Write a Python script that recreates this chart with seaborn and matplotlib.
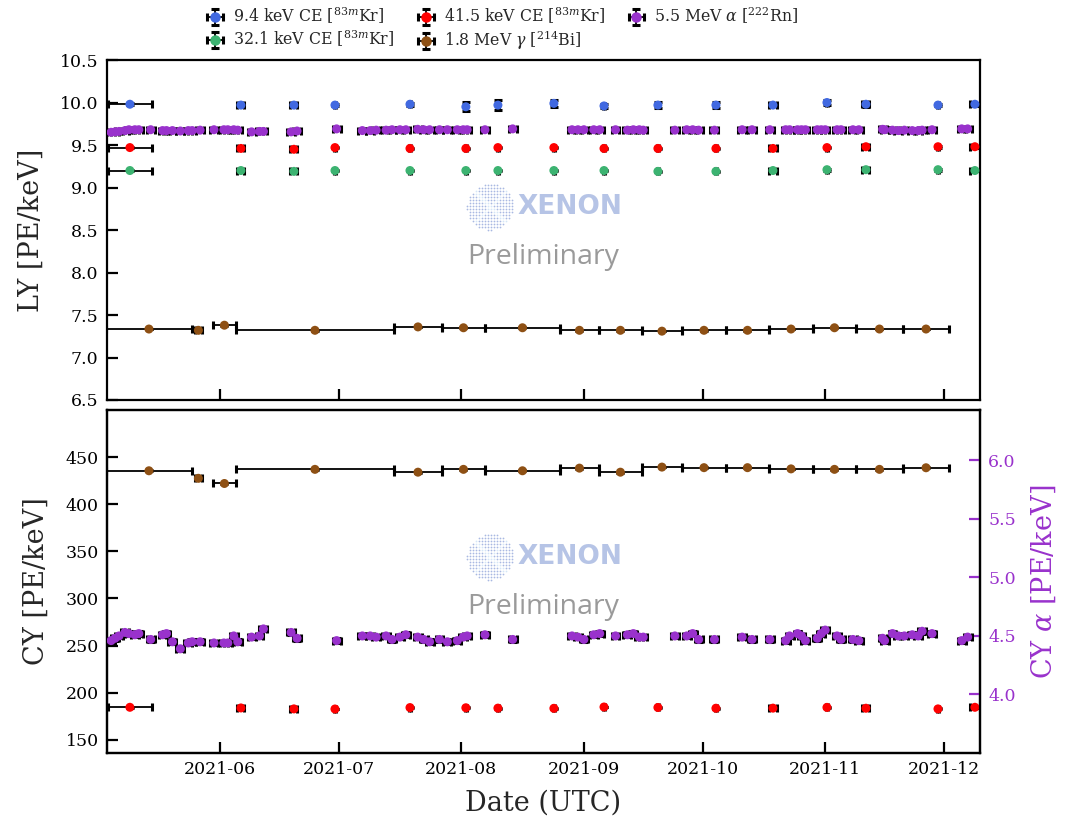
import numpy as np
import pandas as pd
import matplotlib
matplotlib.use("Agg")
import matplotlib.pyplot as plt
import matplotlib.dates as mdates
import matplotlib.transforms as mtransforms
import seaborn as sns

# ---------------- data ----------------
# 83mKr calibration runs
kr_dates = ["2021-05-09 06:00", "2021-06-06 07:30", "2021-06-19 17:00", "2021-06-30 02:00",
            "2021-07-19 01:00", "2021-08-02 04:00", "2021-08-10 06:30", "2021-08-24 10:00",
            "2021-09-06 02:00", "2021-09-19 17:00", "2021-10-04 09:00", "2021-10-18 19:00",
            "2021-11-01 10:30", "2021-11-11 07:00", "2021-11-29 12:00", "2021-12-08 20:00"]
kr_xerr_days = [5.6, 0.9, 0.9, 0.2, 0.2, 0.2, 0.2, 0.2, 0.2, 0.2, 0.2, 0.9, 0.2, 0.9, 0.2, 1.2]

ly_9keV = [9.98, 9.97, 9.97, 9.97, 9.98, 9.95, 9.97, 9.99, 9.96, 9.97, 9.97, 9.97, 10.00, 9.98, 9.97, 9.98]
ly_9keV_err = [0.01, 0.02, 0.02, 0.01, 0.015, 0.055, 0.055, 0.045, 0.02, 0.035, 0.035, 0.015, 0.03, 0.03, 0.01, 0.015]
ly_41keV = [9.47, 9.46, 9.45, 9.47, 9.46, 9.46, 9.47, 9.47, 9.46, 9.46, 9.46, 9.46, 9.47, 9.48, 9.48, 9.48]
ly_32keV = [9.20, 9.20, 9.19, 9.20, 9.20, 9.20, 9.20, 9.20, 9.20, 9.19, 9.19, 9.20, 9.21, 9.21, 9.21, 9.20]
cy_41keV = [184.5, 183.8, 182.8, 182.7, 184.2, 184.0, 183.6, 183.4, 184.8, 184.3, 183.5, 183.6,
            184.4, 183.5, 182.8, 184.5]

# 214Bi 1.8 MeV gamma, time bins
bi_bin_start = ["2021-05-03 05:00", "2021-05-25 16:00", "2021-05-30 05:30", "2021-06-05 01:00",
                "2021-07-15 00:00", "2021-07-27 03:00", "2021-08-07 00:00", "2021-08-25 23:00",
                "2021-09-04 19:00", "2021-09-15 16:00", "2021-09-25 19:00", "2021-10-06 22:00",
                "2021-10-17 19:00", "2021-10-28 22:00", "2021-11-08 18:00", "2021-11-20 16:00"]
bi_bin_end = ["2021-05-24 22:00", "2021-05-27 11:00", "2021-06-05 01:00", "2021-07-15 00:00",
              "2021-07-27 03:00", "2021-08-07 00:00", "2021-08-25 23:00", "2021-09-04 19:00",
              "2021-09-15 16:00", "2021-09-25 19:00", "2021-10-06 22:00", "2021-10-17 19:00",
              "2021-10-28 22:00", "2021-11-08 18:00", "2021-11-20 16:00", "2021-12-02 07:00"]
ly_bi = [7.335, 7.32, 7.38, 7.32, 7.36, 7.35, 7.35, 7.32, 7.32, 7.31, 7.32, 7.32, 7.335, 7.35, 7.335, 7.335]
ly_bi_err = [0.004, 0.012, 0.006, 0.004, 0.004, 0.004, 0.004, 0.004, 0.004, 0.004, 0.004, 0.004,
             0.004, 0.004, 0.004, 0.004]
cy_bi = [435.5, 427.5, 422.0, 437.0, 434.0, 437.0, 435.5, 438.3, 434.0, 439.4, 438.8, 438.8,
         437.5, 437.0, 437.0, 438.7]
cy_bi_err = [0.4, 2.0, 0.6, 0.4, 0.4, 0.4, 0.4, 0.4, 0.4, 0.4, 0.4, 0.4, 0.4, 0.4, 0.4, 0.4]

# 222Rn 5.5 MeV alpha
rn_dates = ["2021-05-04 12:00", "2021-05-05 12:00", "2021-05-06 12:00", "2021-05-08", "2021-05-09",
            "2021-05-10 12:00", "2021-05-11 12:00", "2021-05-14 12:00", "2021-05-17 12:00",
            "2021-05-18 12:00", "2021-05-20", "2021-05-22", "2021-05-24", "2021-05-25", "2021-05-27",
            "2021-05-30 12:00", "2021-06-02", "2021-06-03", "2021-06-04 12:00", "2021-06-05 12:00",
            "2021-06-09", "2021-06-11", "2021-06-12", "2021-06-19", "2021-06-20 12:00",
            "2021-06-30 12:00", "2021-07-07", "2021-07-09", "2021-07-10 12:00", "2021-07-13",
            "2021-07-14 12:00", "2021-07-16 12:00", "2021-07-18", "2021-07-21", "2021-07-22 12:00",
            "2021-07-24", "2021-07-26 12:00", "2021-07-28 12:00", "2021-07-31", "2021-08-01 12:00",
            "2021-08-02 12:00", "2021-08-07", "2021-08-14", "2021-08-29", "2021-08-30 12:00",
            "2021-09-01", "2021-09-03 12:00", "2021-09-05", "2021-09-09", "2021-09-12",
            "2021-09-13 12:00", "2021-09-15", "2021-09-16", "2021-09-24", "2021-09-27",
            "2021-09-28 12:00", "2021-09-30", "2021-10-04", "2021-10-11", "2021-10-13 12:00",
            "2021-10-18", "2021-10-22", "2021-10-23", "2021-10-25", "2021-10-26", "2021-10-27",
            "2021-10-30", "2021-10-31", "2021-11-01", "2021-11-04", "2021-11-05", "2021-11-08",
            "2021-11-09 12:00", "2021-11-15 12:00", "2021-11-16", "2021-11-18", "2021-11-19 12:00",
            "2021-11-21", "2021-11-23", "2021-11-24 12:00", "2021-11-25 12:00", "2021-11-28",
            "2021-12-05 12:00", "2021-12-07"]
ly_rn = [9.65, 9.655, 9.66, 9.67, 9.68, 9.68, 9.68, 9.68, 9.67, 9.67, 9.67, 9.665,
         9.67, 9.67, 9.675, 9.68, 9.68, 9.68, 9.68, 9.675, 9.655, 9.66, 9.66, 9.655,
         9.665, 9.69, 9.67, 9.67, 9.675, 9.675, 9.68, 9.68, 9.68, 9.685, 9.68, 9.68,
         9.68, 9.68, 9.68, 9.68, 9.68, 9.68, 9.69, 9.68, 9.68, 9.68, 9.68, 9.68,
         9.68, 9.675, 9.68, 9.68, 9.675, 9.675, 9.68, 9.68, 9.675, 9.675, 9.68, 9.68,
         9.68, 9.68, 9.68, 9.68, 9.68, 9.68, 9.68, 9.68, 9.68, 9.68, 9.68, 9.68,
         9.68, 9.685, 9.68, 9.675, 9.67, 9.675, 9.67, 9.67, 9.675, 9.68, 9.69, 9.69]
cy_rn = [4.46, 4.48, 4.50, 4.53, 4.52, 4.51, 4.52, 4.47, 4.51, 4.52, 4.45, 4.39,
         4.44, 4.45, 4.45, 4.44, 4.44, 4.44, 4.50, 4.45, 4.49, 4.50, 4.56, 4.53,
         4.48, 4.46, 4.50, 4.50, 4.49, 4.50, 4.47, 4.49, 4.51, 4.49, 4.47, 4.45,
         4.47, 4.45, 4.46, 4.49, 4.50, 4.51, 4.47, 4.50, 4.49, 4.47, 4.51, 4.52,
         4.50, 4.51, 4.52, 4.49, 4.49, 4.50, 4.50, 4.52, 4.47, 4.47, 4.49, 4.47,
         4.47, 4.46, 4.50, 4.52, 4.50, 4.46, 4.48, 4.52, 4.55, 4.50, 4.47, 4.47,
         4.46, 4.48, 4.46, 4.52, 4.50, 4.50, 4.51, 4.50, 4.54, 4.52, 4.46, 4.49]
rn_xerr_days = 1.0
ly_rn_err = 0.006
cy_rn_err = 0.02

month_ticks = ["2021-06-01", "2021-07-01", "2021-08-01", "2021-09-01",
               "2021-10-01", "2021-11-01", "2021-12-01"]
date_range = ["2021-05-03 10:30", "2021-12-10 02:00"]

# ---------------- style ----------------
sns.set_theme(style="ticks")
plt.rcParams["font.family"] = ["DejaVu Serif"]
plt.rcParams["mathtext.fontset"] = "dejavuserif"
plt.rcParams["axes.linewidth"] = 1.6

C_94 = "royalblue"
C_321 = "mediumseagreen"
C_415 = "red"
C_BI = "#8e5014"
C_RN = "darkorchid"


def to_num(dates):
    return mdates.date2num(pd.to_datetime(dates, format="ISO8601"))


kr_x = to_num(kr_dates)
bi_lo = to_num(bi_bin_start)
bi_hi = to_num(bi_bin_end)
bi_x = (bi_lo + bi_hi) / 2
bi_xerr = (bi_hi - bi_lo) / 2
rn_x = to_num(rn_dates)

fig = plt.figure(figsize=(10.69, 8.19), dpi=100)
ax1 = fig.add_axes([0.100, 0.5116, 0.8166, 0.4151])
ax2 = fig.add_axes([0.100, 0.0806, 0.8166, 0.4188], sharex=ax1)
ax2r = ax2.twinx()


def series(ax, x, y, xerr, yerr, color, zo=3):
    ax.errorbar(x, y, xerr=xerr, yerr=yerr, fmt="none", ecolor="black",
                elinewidth=1.3, capsize=3, capthick=2.2, zorder=zo)
    sns.scatterplot(x=x, y=y, color=color, s=42, edgecolor="none", linewidth=0,
                    ax=ax, zorder=zo + 0.5, legend=False)


# top: light yield
series(ax1, rn_x, ly_rn, rn_xerr_days, ly_rn_err, C_RN)
series(ax1, kr_x, ly_32keV, kr_xerr_days, 0.01, C_321)
series(ax1, kr_x, ly_41keV, kr_xerr_days, 0.01, C_415)
series(ax1, kr_x, ly_9keV, kr_xerr_days, ly_9keV_err, C_94)
series(ax1, bi_x, ly_bi, bi_xerr, ly_bi_err, C_BI)

# bottom: charge yield
series(ax2, kr_x, cy_41keV, kr_xerr_days, 0.5, C_415)
series(ax2, bi_x, cy_bi, bi_xerr, cy_bi_err, C_BI)
series(ax2r, rn_x, cy_rn, rn_xerr_days, cy_rn_err, C_RN)

# axes setup
ax1.set_xlim(to_num(date_range))
ax1.set_ylim(6.5, 10.5)
ax1.set_yticks(np.arange(6.5, 10.51, 0.5))
ax1.yaxis.set_major_formatter(matplotlib.ticker.FormatStrFormatter("%.1f"))
ax2.set_ylim(136, 500)
ax2.set_yticks(np.arange(150, 451, 50))
ax2r.set_ylim(3.5, 6.43)
ax2r.set_yticks([4.0, 4.5, 5.0, 5.5, 6.0])
ax2r.yaxis.set_major_formatter(matplotlib.ticker.FormatStrFormatter("%.1f"))

ax2.xaxis.set_major_locator(matplotlib.ticker.FixedLocator(to_num(month_ticks)))
ax2.xaxis.set_major_formatter(mdates.DateFormatter("%Y-%m"))

for ax in (ax1, ax2):
    ax.tick_params(axis="both", direction="in", length=8, width=1.6, labelsize=12.5,
                   colors="black", pad=6)
ax1.tick_params(axis="x", labelbottom=False)
ax2r.tick_params(axis="y", direction="in", length=8, width=1.6, labelsize=12.5,
                 colors=C_RN, pad=6)
for a in (ax1, ax2, ax2r):
    for sp in a.spines.values():
        sp.set_linewidth(1.6)
        sp.set_color("black")

ax1.set_xlabel("")
ax1.set_ylabel("LY [PE/keV]", fontsize=19.5, labelpad=11)
ax2.set_ylabel("CY [PE/keV]", fontsize=19.5, labelpad=11)
ax2r.set_ylabel(r"CY $\alpha$ [PE/keV]", fontsize=19.5, color=C_RN, labelpad=10)
ax2.set_xlabel("Date (UTC)", fontsize=19.5, labelpad=8)
ax2r.set_xlabel("")


# watermark: dotted sphere logo + label
def watermark(ax, cy_logo, cy_text):
    cx_logo = 0.4387
    trans = fig.dpi_scale_trans + mtransforms.ScaledTranslation(cx_logo, cy_logo, ax.transAxes)
    g = np.arange(-0.23, 0.2301, 0.03)
    gx, gy = np.meshgrid(g, g)
    inside = gx ** 2 + gy ** 2 <= 0.232 ** 2
    gx, gy = gx[inside], gy[inside]
    diag = (np.abs(np.abs(gx) - np.abs(gy)) < 0.025)
    ax.scatter(gx[~diag], gy[~diag], s=1.6, color="#a9b9e2", transform=trans,
               zorder=0.5, linewidths=0, clip_on=False)
    ax.scatter(gx[diag], gy[diag], s=1.6, color="#d4e6f6", transform=trans,
               zorder=0.5, linewidths=0, clip_on=False)
    ax.text(0.4708, cy_logo, "XENON", transform=ax.transAxes, fontsize=19,
            fontweight="bold", family="DejaVu Sans", color="#b6c4e6",
            ha="left", va="center", zorder=0.5)
    ax.text(0.4994, cy_text, "Preliminary", transform=ax.transAxes, fontsize=20.5,
            family="Open Sans", color="#9a9a9a", ha="center", va="center", zorder=0.5)


watermark(ax1, 0.5676, 0.4206)
watermark(ax2, 0.5714, 0.4257)

# legend with errorbar-style handles
nan = np.array([np.nan])
labels = [r"9.4 keV CE [$^{83m}$Kr]", r"32.1 keV CE [$^{83m}$Kr]",
          r"41.5 keV CE [$^{83m}$Kr]", r"1.8 MeV $\gamma$ [$^{214}$Bi]",
          r"5.5 MeV $\alpha$ [$^{222}$Rn]"]
colors = [C_94, C_321, C_415, C_BI, C_RN]
handles = []
for c in colors:
    h = ax1.errorbar(nan, nan, xerr=nan, yerr=nan, fmt="o", color=c, markersize=6.5,
                     ecolor="black", elinewidth=1.3, capsize=3, capthick=2.2)
    handles.append(h)
fig.legend(handles, labels, loc="upper center", bbox_to_anchor=(0.469, 1.01), ncol=3,
           frameon=False, fontsize=11.3, handletextpad=0.45, columnspacing=1.3,
           labelspacing=0.15, handlelength=1.4)

fig.savefig("out.png", dpi=100)
